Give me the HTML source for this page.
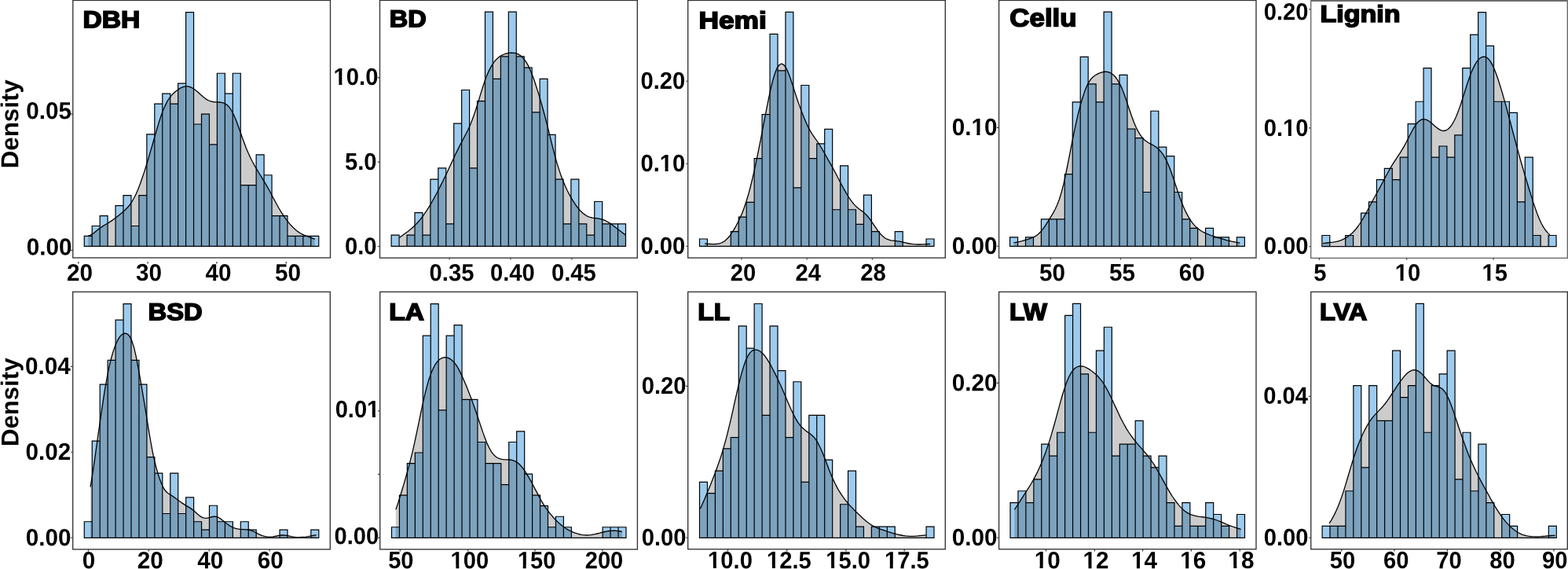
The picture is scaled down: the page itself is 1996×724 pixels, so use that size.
<!DOCTYPE html>
<html lang="en"><head><meta charset="utf-8"><title>Trait density histograms</title>
<style>
html,body{margin:0;padding:0;background:#fff;}
body{width:1996px;height:724px;overflow:hidden;}
svg{display:block;}
text{font-family:"Liberation Sans",Arial,Helvetica,sans-serif;font-weight:bold;fill:#000;}
.tk{font-size:29.7px;}
.ttl{stroke:#000;stroke-width:1.6;stroke-linejoin:miter;paint-order:stroke;}
.bar{fill:#9ccbee;stroke:#000;stroke-width:1.2;stroke-linejoin:miter;}
.den{fill:rgba(0,0,0,0.2);stroke:none;}
.dl{fill:none;stroke:#000;stroke-width:1.3;stroke-linejoin:round;stroke-linecap:butt;}
.fr{fill:none;stroke:#333;stroke-width:1.35;}
.tm{stroke:#333;stroke-width:1.2;fill:none;}
.wf{fill:#fff;stroke:none;}
.ty{stroke:#333;stroke-width:1.1;fill:none;}
</style></head><body>
<svg width="1996" height="724" viewBox="0 0 1996 724">
<rect x="0" y="0" width="1996" height="724" fill="#fff"/>
<g id="panel-DBH">
<g class="x-axis">
<text class="tk" transform="translate(84.93 357.17) rotate(0.03) scale(1.000 1.027)">20</text>
<text class="tk" transform="translate(172.93 357.12) rotate(0.03) scale(1.000 1.027)">30</text>
<text class="tk" transform="translate(261.55 357.24) rotate(0.03) scale(1.000 1.027)">40</text>
<text class="tk" transform="translate(349.89 357.15) rotate(0.03) scale(1.000 1.027)">50</text>
</g>
<g class="y-axis">
<text class="tk" transform="translate(33.29 151.23) rotate(0.03) scale(1.000 1.027)">0.05</text>
<text class="tk" transform="translate(33.68 324.55) rotate(0.03) scale(1.000 1.027)">0.00</text>
</g>
<path class="bar" d="M107.25,313.40V300.45H117.20V313.40ZM117.20,313.40V287.50H127.15V313.40ZM127.15,313.40V274.55H137.10V313.40ZM137.10,313.40H147.05M147.05,313.40V261.60H157.00V313.40ZM157.00,313.40V248.65H166.95V313.40ZM166.95,313.40V287.50H176.90V313.40ZM176.90,313.40V248.65H186.85V313.40ZM186.85,313.40V170.95H196.80V313.40ZM196.80,313.40V132.10H206.75V313.40ZM206.75,313.40V119.15H216.70V313.40ZM216.70,313.40V132.10H226.65V313.40ZM226.65,313.40V106.20H236.60V313.40ZM236.60,313.40V15.55H246.55V313.40ZM246.55,313.40V158.00H256.50V313.40ZM256.50,313.40V145.05H266.45V313.40ZM266.45,313.40V183.90H276.40V313.40ZM276.40,313.40V93.25H286.35V313.40ZM286.35,313.40V119.15H296.30V313.40ZM296.30,313.40V93.25H306.25V313.40ZM306.25,313.40V235.70H316.20V313.40ZM316.20,313.40V235.70H326.15V313.40ZM326.15,313.40V196.85H336.10V313.40ZM336.10,313.40V222.75H346.05V313.40ZM346.05,313.40V274.55H356.00V313.40ZM356.00,313.40V274.55H365.95V313.40ZM365.95,313.40V300.45H375.90V313.40ZM375.90,313.40V300.45H385.85V313.40ZM385.85,313.40V300.45H395.80V313.40ZM395.80,313.40V300.45H405.75V313.40Z"/>
<path class="den" d="M112.2,300.2L114.8,299.4L117.5,297.9L120.1,295.9L122.8,293.8L125.4,291.6L128.1,289.7L130.7,287.9L133.4,286.2L136.0,284.7L138.7,283.1L141.3,281.4L144.0,279.6L146.6,277.6L149.3,275.5L151.9,273.4L154.6,271.2L157.2,268.9L159.9,266.5L162.5,263.8L165.2,260.7L167.8,256.9L170.4,252.3L173.1,247.0L175.7,240.9L178.4,234.0L181.0,226.5L183.7,218.6L186.3,210.2L189.0,201.5L191.6,192.4L194.3,183.2L196.9,173.9L199.6,164.7L202.2,155.9L204.9,147.8L207.5,140.6L210.2,134.4L212.8,129.2L215.5,125.0L218.1,121.6L220.8,118.8L223.4,116.4L226.1,114.4L228.7,112.6L231.3,111.2L234.0,110.3L236.6,109.8L239.3,109.9L241.9,110.6L244.6,111.8L247.2,113.5L249.9,115.5L252.5,117.8L255.2,120.3L257.8,122.6L260.5,124.8L263.1,126.6L265.8,128.0L268.4,128.9L271.1,129.5L273.7,129.8L276.4,129.9L279.0,130.0L281.7,130.3L284.3,130.9L286.9,132.1L289.6,134.0L292.2,136.9L294.9,141.0L297.5,146.1L300.2,152.3L302.8,159.3L305.5,166.7L308.1,174.3L310.8,181.6L313.4,188.5L316.1,194.8L318.7,200.5L321.4,205.8L324.0,210.6L326.7,215.1L329.3,219.5L332.0,223.8L334.6,228.1L337.3,232.5L339.9,237.1L342.6,241.8L345.2,246.7L347.8,251.7L350.5,256.7L353.1,261.5L355.8,266.2L358.4,270.6L361.1,274.7L363.7,278.4L366.4,281.9L369.0,285.1L371.7,288.0L374.3,290.6L377.0,292.9L379.6,294.9L382.3,296.7L384.9,298.1L387.6,299.4L390.2,300.4L392.9,301.4L395.5,302.4L398.2,303.3L400.8,304.4L400.8,313.4L112.2,313.4Z"/>
<path class="dl" d="M112.2,300.2L114.8,299.4L117.5,297.9L120.1,295.9L122.8,293.8L125.4,291.6L128.1,289.7L130.7,287.9L133.4,286.2L136.0,284.7L138.7,283.1L141.3,281.4L144.0,279.6L146.6,277.6L149.3,275.5L151.9,273.4L154.6,271.2L157.2,268.9L159.9,266.5L162.5,263.8L165.2,260.7L167.8,256.9L170.4,252.3L173.1,247.0L175.7,240.9L178.4,234.0L181.0,226.5L183.7,218.6L186.3,210.2L189.0,201.5L191.6,192.4L194.3,183.2L196.9,173.9L199.6,164.7L202.2,155.9L204.9,147.8L207.5,140.6L210.2,134.4L212.8,129.2L215.5,125.0L218.1,121.6L220.8,118.8L223.4,116.4L226.1,114.4L228.7,112.6L231.3,111.2L234.0,110.3L236.6,109.8L239.3,109.9L241.9,110.6L244.6,111.8L247.2,113.5L249.9,115.5L252.5,117.8L255.2,120.3L257.8,122.6L260.5,124.8L263.1,126.6L265.8,128.0L268.4,128.9L271.1,129.5L273.7,129.8L276.4,129.9L279.0,130.0L281.7,130.3L284.3,130.9L286.9,132.1L289.6,134.0L292.2,136.9L294.9,141.0L297.5,146.1L300.2,152.3L302.8,159.3L305.5,166.7L308.1,174.3L310.8,181.6L313.4,188.5L316.1,194.8L318.7,200.5L321.4,205.8L324.0,210.6L326.7,215.1L329.3,219.5L332.0,223.8L334.6,228.1L337.3,232.5L339.9,237.1L342.6,241.8L345.2,246.7L347.8,251.7L350.5,256.7L353.1,261.5L355.8,266.2L358.4,270.6L361.1,274.7L363.7,278.4L366.4,281.9L369.0,285.1L371.7,288.0L374.3,290.6L377.0,292.9L379.6,294.9L382.3,296.7L384.9,298.1L387.6,299.4L390.2,300.4L392.9,301.4L395.5,302.4L398.2,303.3L400.8,304.4"/>
<rect class="fr" x="92.80" y="0.45" width="327.70" height="327.55"/>
<path class="tm" d="M99.90,333.10V335.60M188.10,333.10V335.60M275.90,333.10V335.60M364.30,333.10V335.60"/>
<path class="ty" d="M90.20,144.90H92.40M90.20,318.40H92.40"/>
<text class="ttl" style="font-size:30.49px" transform="translate(105.41 35.20) rotate(0.03) scale(1.1055 1)">DBH</text>
</g>
<g id="panel-BD">
<g class="x-axis">
<text class="tk" transform="translate(546.59 357.14) rotate(0.03) scale(0.985 1.027)">0.35</text>
<text class="tk" transform="translate(623.92 357.17) rotate(0.03) scale(0.985 1.027)">0.40</text>
<text class="tk" transform="translate(701.97 357.15) rotate(0.03) scale(0.985 1.027)">0.45</text>
</g>
<g class="y-axis">
<g transform="translate(424.57 107.97) rotate(0.03) scale(0.985 1.027)"><text class="tk">10.0</text><path class="wf" d="M0.87,-3.73H6.93V0.80H0.87ZM11.01,-3.73H16.69V0.80H11.01Z"/></g>
<text class="tk" transform="translate(438.88 215.98) rotate(0.03) scale(0.985 1.027)">5.0</text>
<text class="tk" transform="translate(438.92 323.54) rotate(0.03) scale(0.985 1.027)">0.0</text>
</g>
<path class="bar" d="M498.15,313.30V299.10H508.09V313.30ZM508.09,313.30H518.04M518.04,313.30V299.10H527.99V313.30ZM527.99,313.30V270.70H537.93V313.30ZM537.93,313.30V299.10H547.88V313.30ZM547.88,313.30V228.10H557.82V313.30ZM557.82,313.30V213.90H567.76V313.30ZM567.76,313.30V284.90H577.71V313.30ZM577.71,313.30V157.10H587.66V313.30ZM587.65,313.30V114.50H597.60V313.30ZM597.60,313.30V213.90H607.55V313.30ZM607.54,313.30V128.70H617.49V313.30ZM617.49,313.30V15.10H627.44V313.30ZM627.43,313.30V100.30H637.38V313.30ZM637.38,313.30V71.90H647.33V313.30ZM647.33,313.30V15.10H657.27V313.30ZM657.27,313.30V71.90H667.22V313.30ZM667.21,313.30V86.10H677.16V313.30ZM677.16,313.30V142.90H687.11V313.30ZM687.11,313.30V100.30H697.05V313.30ZM697.05,313.30V171.30H707.00V313.30ZM707.00,313.30V228.10H716.94V313.30ZM716.94,313.30V284.90H726.89V313.30ZM726.88,313.30V228.10H736.83V313.30ZM736.83,313.30V284.90H746.77V313.30ZM746.77,313.30V299.10H756.72V313.30ZM756.72,313.30V256.50H766.67V313.30ZM766.66,313.30V284.90H776.61V313.30ZM776.61,313.30V284.90H786.56V313.30ZM786.56,313.30V284.90H796.50V313.30Z"/>
<path class="den" d="M508.4,302.2L511.1,300.4L513.7,298.5L516.3,296.6L519.0,294.7L521.6,292.6L524.3,290.4L526.9,288.0L529.5,285.4L532.2,282.5L534.8,279.4L537.5,276.0L540.1,272.4L542.7,268.6L545.4,264.4L548.0,260.1L550.7,255.5L553.3,250.7L556.0,245.8L558.6,240.7L561.2,235.6L563.9,230.3L566.5,224.9L569.2,219.3L571.8,213.6L574.4,207.9L577.1,202.2L579.7,196.6L582.4,191.1L585.0,185.8L587.6,180.8L590.3,175.8L592.9,170.8L595.6,165.5L598.2,159.8L600.8,153.3L603.5,146.1L606.1,138.1L608.8,129.6L611.4,120.9L614.1,112.3L616.7,104.3L619.3,97.1L622.0,90.9L624.6,85.7L627.3,81.3L629.9,77.7L632.5,74.9L635.2,72.6L637.8,70.8L640.5,69.5L643.1,68.5L645.7,67.8L648.4,67.4L651.0,67.2L653.7,67.3L656.3,67.7L658.9,68.6L661.6,70.0L664.2,72.1L666.9,74.9L669.5,78.6L672.2,83.1L674.8,88.7L677.4,95.1L680.1,102.3L682.7,110.2L685.4,118.6L688.0,127.4L690.6,136.7L693.3,146.5L695.9,156.7L698.6,167.2L701.2,177.9L703.8,188.4L706.5,198.5L709.1,207.9L711.8,216.4L714.4,224.1L717.1,231.0L719.7,237.2L722.3,242.8L725.0,247.9L727.6,252.6L730.3,256.9L732.9,260.8L735.5,264.4L738.2,267.5L740.8,270.2L743.5,272.4L746.1,274.2L748.7,275.6L751.4,276.5L754.0,277.1L756.7,277.5L759.3,277.7L761.9,278.1L764.6,278.6L767.2,279.3L769.9,280.3L772.5,281.7L775.2,283.2L777.8,285.0L780.4,286.9L783.1,289.0L785.7,291.0L788.4,293.1L791.0,295.1L793.6,297.0L796.3,298.9L796.3,313.3L508.4,313.3Z"/>
<path class="dl" d="M508.4,302.2L511.1,300.4L513.7,298.5L516.3,296.6L519.0,294.7L521.6,292.6L524.3,290.4L526.9,288.0L529.5,285.4L532.2,282.5L534.8,279.4L537.5,276.0L540.1,272.4L542.7,268.6L545.4,264.4L548.0,260.1L550.7,255.5L553.3,250.7L556.0,245.8L558.6,240.7L561.2,235.6L563.9,230.3L566.5,224.9L569.2,219.3L571.8,213.6L574.4,207.9L577.1,202.2L579.7,196.6L582.4,191.1L585.0,185.8L587.6,180.8L590.3,175.8L592.9,170.8L595.6,165.5L598.2,159.8L600.8,153.3L603.5,146.1L606.1,138.1L608.8,129.6L611.4,120.9L614.1,112.3L616.7,104.3L619.3,97.1L622.0,90.9L624.6,85.7L627.3,81.3L629.9,77.7L632.5,74.9L635.2,72.6L637.8,70.8L640.5,69.5L643.1,68.5L645.7,67.8L648.4,67.4L651.0,67.2L653.7,67.3L656.3,67.7L658.9,68.6L661.6,70.0L664.2,72.1L666.9,74.9L669.5,78.6L672.2,83.1L674.8,88.7L677.4,95.1L680.1,102.3L682.7,110.2L685.4,118.6L688.0,127.4L690.6,136.7L693.3,146.5L695.9,156.7L698.6,167.2L701.2,177.9L703.8,188.4L706.5,198.5L709.1,207.9L711.8,216.4L714.4,224.1L717.1,231.0L719.7,237.2L722.3,242.8L725.0,247.9L727.6,252.6L730.3,256.9L732.9,260.8L735.5,264.4L738.2,267.5L740.8,270.2L743.5,272.4L746.1,274.2L748.7,275.6L751.4,276.5L754.0,277.1L756.7,277.5L759.3,277.7L761.9,278.1L764.6,278.6L767.2,279.3L769.9,280.3L772.5,281.7L775.2,283.2L777.8,285.0L780.4,286.9L783.1,289.0L785.7,291.0L788.4,293.1L791.0,295.1L793.6,297.0L796.3,298.9"/>
<rect class="fr" x="483.50" y="0.45" width="327.80" height="327.75"/>
<path class="tm" d="M572.00,328.40V330.50M649.90,328.40V330.50M727.90,328.40V330.50"/>
<path class="ty" d="M480.90,98.90H483.10M480.90,206.10H483.10M480.90,313.50H483.10"/>
<text class="ttl" style="font-size:30.46px" transform="translate(495.65 34.30) rotate(0.03) scale(1.0676 1)">BD</text>
</g>
<g id="panel-Hemi">
<g class="x-axis">
<text class="tk" transform="translate(929.84 357.25) rotate(0.03) scale(0.982 1.027)">20</text>
<text class="tk" transform="translate(1012.47 357.28) rotate(0.03) scale(0.982 1.027)">24</text>
<text class="tk" transform="translate(1095.17 357.11) rotate(0.03) scale(0.982 1.027)">28</text>
</g>
<g class="y-axis">
<text class="tk" transform="translate(815.46 112.98) rotate(0.03) scale(0.982 1.027)">0.20</text>
<g transform="translate(815.46 217.98) rotate(0.03) scale(0.982 1.027)"><text class="tk">0.10</text><path class="wf" d="M25.64,-3.73H31.70V0.80H25.64ZM35.78,-3.73H41.46V0.80H35.78Z"/></g>
<text class="tk" transform="translate(815.47 322.98) rotate(0.03) scale(0.982 1.027)">0.00</text>
</g>
<path class="bar" d="M890.50,313.30V303.99H900.45V313.30ZM900.45,313.30H910.40M910.40,313.30H920.35M920.35,313.30H930.30M930.30,313.30V294.68H940.25V313.30ZM940.25,313.30V276.06H950.20V313.30ZM950.20,313.30V257.44H960.15V313.30ZM960.15,313.30V201.58H970.10V313.30ZM970.10,313.30V145.72H980.05V313.30ZM980.05,313.30V43.31H990.00V313.30ZM990.00,313.30V89.86H999.95V313.30ZM999.95,313.30V15.38H1009.90V313.30ZM1009.90,313.30V238.82H1019.85V313.30ZM1019.85,313.30V108.48H1029.80V313.30ZM1029.80,313.30V201.58H1039.75V313.30ZM1039.75,313.30V182.96H1049.70V313.30ZM1049.70,313.30V164.34H1059.65V313.30ZM1059.65,313.30V266.75H1069.60V313.30ZM1069.60,313.30V210.89H1079.55V313.30ZM1079.55,313.30V266.75H1089.50V313.30ZM1089.50,313.30V285.37H1099.45V313.30ZM1099.45,313.30V248.13H1109.40V313.30ZM1109.40,313.30V294.68H1119.35V313.30ZM1119.35,313.30H1129.30M1129.30,313.30H1139.25M1139.25,313.30V294.68H1149.20V313.30ZM1149.20,313.30H1159.15M1159.15,313.30H1169.10M1169.10,313.30H1179.05M1179.05,313.30V303.99H1189.00V313.30Z"/>
<path class="den" d="M897.3,309.9L899.9,310.1L902.5,310.3L905.2,310.5L907.8,310.6L910.4,310.5L913.1,310.3L915.7,309.8L918.3,309.0L921.0,307.7L923.6,305.8L926.2,303.3L928.9,300.2L931.5,296.5L934.1,292.4L936.8,287.8L939.4,282.7L942.0,277.3L944.7,271.2L947.3,264.3L949.9,256.5L952.6,247.8L955.2,238.0L957.8,227.3L960.5,215.6L963.1,203.3L965.7,190.4L968.4,177.1L971.0,163.5L973.6,149.8L976.3,136.2L978.9,123.1L981.5,111.1L984.2,100.7L986.8,92.3L989.4,86.2L992.1,82.5L994.7,81.2L997.3,82.2L1000.0,85.3L1002.6,90.4L1005.2,97.0L1007.8,104.7L1010.5,112.9L1013.1,121.1L1015.7,129.0L1018.4,136.4L1021.0,143.4L1023.6,150.0L1026.3,156.2L1028.9,161.9L1031.5,166.8L1034.2,171.1L1036.8,174.8L1039.4,178.5L1042.1,182.3L1044.7,186.5L1047.3,191.0L1050.0,195.8L1052.6,200.5L1055.2,205.1L1057.9,209.7L1060.5,214.4L1063.1,219.3L1065.8,224.3L1068.4,229.5L1071.0,234.6L1073.7,239.5L1076.3,244.1L1078.9,248.5L1081.6,252.6L1084.2,256.3L1086.8,259.6L1089.5,262.4L1092.1,264.7L1094.7,266.7L1097.4,268.6L1100.0,270.7L1102.6,273.2L1105.3,276.2L1107.9,279.6L1110.5,283.4L1113.2,287.3L1115.8,291.2L1118.4,294.8L1121.1,298.0L1123.7,300.6L1126.3,302.7L1129.0,304.2L1131.6,305.2L1134.2,305.8L1136.9,306.1L1139.5,306.4L1142.1,306.8L1144.8,307.2L1147.4,307.7L1150.0,308.3L1152.7,308.9L1155.3,309.5L1157.9,310.0L1160.6,310.4L1163.2,310.7L1165.8,310.9L1168.5,311.0L1171.1,311.0L1173.7,310.9L1176.4,310.8L1179.0,310.6L1181.6,310.4L1184.2,310.3L1184.2,313.3L897.3,313.3Z"/>
<path class="dl" d="M897.3,309.9L899.9,310.1L902.5,310.3L905.2,310.5L907.8,310.6L910.4,310.5L913.1,310.3L915.7,309.8L918.3,309.0L921.0,307.7L923.6,305.8L926.2,303.3L928.9,300.2L931.5,296.5L934.1,292.4L936.8,287.8L939.4,282.7L942.0,277.3L944.7,271.2L947.3,264.3L949.9,256.5L952.6,247.8L955.2,238.0L957.8,227.3L960.5,215.6L963.1,203.3L965.7,190.4L968.4,177.1L971.0,163.5L973.6,149.8L976.3,136.2L978.9,123.1L981.5,111.1L984.2,100.7L986.8,92.3L989.4,86.2L992.1,82.5L994.7,81.2L997.3,82.2L1000.0,85.3L1002.6,90.4L1005.2,97.0L1007.8,104.7L1010.5,112.9L1013.1,121.1L1015.7,129.0L1018.4,136.4L1021.0,143.4L1023.6,150.0L1026.3,156.2L1028.9,161.9L1031.5,166.8L1034.2,171.1L1036.8,174.8L1039.4,178.5L1042.1,182.3L1044.7,186.5L1047.3,191.0L1050.0,195.8L1052.6,200.5L1055.2,205.1L1057.9,209.7L1060.5,214.4L1063.1,219.3L1065.8,224.3L1068.4,229.5L1071.0,234.6L1073.7,239.5L1076.3,244.1L1078.9,248.5L1081.6,252.6L1084.2,256.3L1086.8,259.6L1089.5,262.4L1092.1,264.7L1094.7,266.7L1097.4,268.6L1100.0,270.7L1102.6,273.2L1105.3,276.2L1107.9,279.6L1110.5,283.4L1113.2,287.3L1115.8,291.2L1118.4,294.8L1121.1,298.0L1123.7,300.6L1126.3,302.7L1129.0,304.2L1131.6,305.2L1134.2,305.8L1136.9,306.1L1139.5,306.4L1142.1,306.8L1144.8,307.2L1147.4,307.7L1150.0,308.3L1152.7,308.9L1155.3,309.5L1157.9,310.0L1160.6,310.4L1163.2,310.7L1165.8,310.9L1168.5,311.0L1171.1,311.0L1173.7,310.9L1176.4,310.8L1179.0,310.6L1181.6,310.4L1184.2,310.3"/>
<rect class="fr" x="875.70" y="0.45" width="327.60" height="327.65"/>
<path class="tm" d="M943.90,328.40V330.50M1027.10,328.40V330.50M1110.40,328.40V330.50"/>
<path class="ty" d="M873.10,103.25H875.30M873.10,208.25H875.30M873.10,313.30H875.30"/>
<text class="ttl" style="font-size:30.49px" transform="translate(889.40 36.30) rotate(0.03) scale(1.1605 1)">Hemi</text>
</g>
<g id="panel-Cellu">
<g class="x-axis">
<text class="tk" transform="translate(1322.89 357.15) rotate(0.03) scale(1.000 1.027)">50</text>
<text class="tk" transform="translate(1411.94 357.12) rotate(0.03) scale(1.000 1.027)">55</text>
<text class="tk" transform="translate(1500.76 357.12) rotate(0.03) scale(1.000 1.027)">60</text>
</g>
<g class="y-axis">
<g transform="translate(1211.66 172.09) rotate(0.03) scale(1.000 1.027)"><text class="tk">0.10</text><path class="wf" d="M25.64,-3.73H31.70V0.80H25.64ZM35.78,-3.73H41.46V0.80H35.78Z"/></g>
<text class="tk" transform="translate(1211.66 322.98) rotate(0.03) scale(1.000 1.027)">0.00</text>
</g>
<path class="bar" d="M1285.60,313.30V301.83H1295.56V313.30ZM1295.56,313.30H1305.52M1305.52,313.30V301.83H1315.48V313.30ZM1315.48,313.30H1325.44M1325.44,313.30V278.89H1335.40V313.30ZM1335.40,313.30V278.89H1345.36V313.30ZM1345.36,313.30V278.89H1355.32V313.30ZM1355.32,313.30V221.54H1365.28V313.30ZM1365.28,313.30V129.78H1375.24V313.30ZM1375.24,313.30V72.43H1385.20V313.30ZM1385.20,313.30V106.84H1395.16V313.30ZM1395.16,313.30V129.78H1405.12V313.30ZM1405.12,313.30V15.08H1415.08V313.30ZM1415.08,313.30V106.84H1425.04V313.30ZM1425.04,313.30V95.37H1435.00V313.30ZM1435.00,313.30V164.19H1444.96V313.30ZM1444.96,313.30V175.66H1454.92V313.30ZM1454.92,313.30V244.48H1464.88V313.30ZM1464.88,313.30V141.25H1474.84V313.30ZM1474.84,313.30V187.13H1484.80V313.30ZM1484.80,313.30V198.60H1494.76V313.30ZM1494.76,313.30V244.48H1504.72V313.30ZM1504.72,313.30V278.89H1514.68V313.30ZM1514.68,313.30V290.36H1524.64V313.30ZM1524.64,313.30H1534.60M1534.60,313.30V290.36H1544.56V313.30ZM1544.56,313.30V301.83H1554.52V313.30ZM1554.52,313.30V301.83H1564.48V313.30ZM1564.48,313.30H1574.44M1574.44,313.30V301.83H1584.40V313.30Z"/>
<path class="den" d="M1290.5,308.7L1293.1,308.4L1295.8,307.9L1298.4,307.3L1301.1,306.7L1303.7,305.9L1306.3,305.1L1309.0,304.3L1311.6,303.4L1314.3,302.4L1316.9,301.2L1319.5,299.6L1322.2,297.5L1324.8,294.8L1327.5,291.6L1330.1,287.9L1332.7,283.9L1335.4,279.7L1338.0,275.4L1340.7,270.9L1343.3,266.0L1345.9,260.2L1348.6,253.2L1351.2,244.6L1353.9,234.3L1356.5,222.5L1359.1,209.5L1361.8,195.9L1364.4,182.3L1367.1,169.1L1369.7,156.8L1372.3,145.3L1375.0,134.9L1377.6,125.7L1380.3,117.6L1382.9,110.8L1385.5,105.4L1388.2,101.3L1390.8,98.4L1393.5,96.3L1396.1,94.7L1398.7,93.4L1401.4,92.4L1404.0,91.6L1406.7,91.2L1409.3,91.3L1411.9,92.0L1414.6,93.3L1417.2,95.3L1419.9,98.0L1422.5,101.6L1425.1,106.1L1427.8,111.6L1430.4,118.2L1433.1,125.5L1435.7,133.4L1438.3,141.3L1441.0,149.0L1443.6,156.0L1446.3,162.2L1448.9,167.4L1451.5,171.7L1454.2,175.2L1456.8,177.9L1459.5,180.0L1462.1,181.7L1464.7,183.1L1467.4,184.5L1470.0,186.0L1472.7,187.9L1475.3,190.2L1477.9,193.1L1480.6,196.7L1483.2,201.1L1485.9,206.4L1488.5,212.6L1491.1,219.6L1493.8,227.2L1496.4,235.2L1499.1,243.1L1501.7,250.7L1504.3,257.8L1507.0,264.2L1509.6,269.9L1512.3,274.9L1514.9,279.3L1517.5,283.1L1520.2,286.4L1522.8,289.1L1525.5,291.3L1528.1,293.2L1530.7,294.8L1533.4,296.1L1536.0,297.3L1538.7,298.4L1541.3,299.5L1543.9,300.4L1546.6,301.2L1549.2,302.1L1551.9,302.8L1554.5,303.6L1557.1,304.3L1559.8,305.1L1562.4,305.8L1565.1,306.4L1567.7,307.1L1570.3,307.6L1573.0,308.2L1575.6,308.7L1578.3,309.2L1578.3,313.3L1290.5,313.3Z"/>
<path class="dl" d="M1290.5,308.7L1293.1,308.4L1295.8,307.9L1298.4,307.3L1301.1,306.7L1303.7,305.9L1306.3,305.1L1309.0,304.3L1311.6,303.4L1314.3,302.4L1316.9,301.2L1319.5,299.6L1322.2,297.5L1324.8,294.8L1327.5,291.6L1330.1,287.9L1332.7,283.9L1335.4,279.7L1338.0,275.4L1340.7,270.9L1343.3,266.0L1345.9,260.2L1348.6,253.2L1351.2,244.6L1353.9,234.3L1356.5,222.5L1359.1,209.5L1361.8,195.9L1364.4,182.3L1367.1,169.1L1369.7,156.8L1372.3,145.3L1375.0,134.9L1377.6,125.7L1380.3,117.6L1382.9,110.8L1385.5,105.4L1388.2,101.3L1390.8,98.4L1393.5,96.3L1396.1,94.7L1398.7,93.4L1401.4,92.4L1404.0,91.6L1406.7,91.2L1409.3,91.3L1411.9,92.0L1414.6,93.3L1417.2,95.3L1419.9,98.0L1422.5,101.6L1425.1,106.1L1427.8,111.6L1430.4,118.2L1433.1,125.5L1435.7,133.4L1438.3,141.3L1441.0,149.0L1443.6,156.0L1446.3,162.2L1448.9,167.4L1451.5,171.7L1454.2,175.2L1456.8,177.9L1459.5,180.0L1462.1,181.7L1464.7,183.1L1467.4,184.5L1470.0,186.0L1472.7,187.9L1475.3,190.2L1477.9,193.1L1480.6,196.7L1483.2,201.1L1485.9,206.4L1488.5,212.6L1491.1,219.6L1493.8,227.2L1496.4,235.2L1499.1,243.1L1501.7,250.7L1504.3,257.8L1507.0,264.2L1509.6,269.9L1512.3,274.9L1514.9,279.3L1517.5,283.1L1520.2,286.4L1522.8,289.1L1525.5,291.3L1528.1,293.2L1530.7,294.8L1533.4,296.1L1536.0,297.3L1538.7,298.4L1541.3,299.5L1543.9,300.4L1546.6,301.2L1549.2,302.1L1551.9,302.8L1554.5,303.6L1557.1,304.3L1559.8,305.1L1562.4,305.8L1565.1,306.4L1567.7,307.1L1570.3,307.6L1573.0,308.2L1575.6,308.7L1578.3,309.2"/>
<rect class="fr" x="1271.60" y="0.45" width="327.40" height="327.65"/>
<path class="tm" d="M1337.50,328.40V330.50M1426.50,328.40V330.50M1515.70,328.40V330.50"/>
<path class="ty" d="M1269.00,162.40H1271.20M1269.00,313.30H1271.20"/>
<text class="ttl" style="font-size:31.82px" transform="translate(1285.29 33.57) rotate(0.03) scale(1.0973 1)">Cellu</text>
</g>
<g id="panel-Lignin">
<g class="x-axis">
<text class="tk" transform="translate(1672.26 357.20) rotate(0.03) scale(0.983 1.027)">5</text>
<g transform="translate(1775.76 357.30) rotate(0.03) scale(0.983 1.027)"><text class="tk">10</text><path class="wf" d="M0.87,-3.73H6.93V0.80H0.87ZM11.01,-3.73H16.69V0.80H11.01Z"/></g>
<g transform="translate(1886.52 357.15) rotate(0.03) scale(0.983 1.027)"><text class="tk">15</text><path class="wf" d="M0.87,-3.73H6.93V0.80H0.87ZM11.01,-3.73H16.69V0.80H11.01Z"/></g>
</g>
<g class="y-axis">
<text class="tk" transform="translate(1608.69 25.23) rotate(0.03) scale(0.983 1.027)">0.20</text>
<g transform="translate(1608.70 172.98) rotate(0.03) scale(0.983 1.027)"><text class="tk">0.10</text><path class="wf" d="M25.64,-3.73H31.70V0.80H25.64ZM35.78,-3.73H41.46V0.80H35.78Z"/></g>
<text class="tk" transform="translate(1608.70 322.98) rotate(0.03) scale(0.983 1.027)">0.00</text>
</g>
<path class="bar" d="M1682.85,313.70V299.51H1692.79V313.70ZM1692.79,313.70H1702.73M1702.73,313.70H1712.67M1712.67,313.70V299.51H1722.61V313.70ZM1722.61,313.70H1732.55M1732.55,313.70V271.13H1742.49V313.70ZM1742.49,313.70V256.94H1752.43V313.70ZM1752.43,313.70V228.56H1762.37V313.70ZM1762.37,313.70V214.37H1772.31V313.70ZM1772.31,313.70V228.56H1782.25V313.70ZM1782.25,313.70V200.18H1792.19V313.70ZM1792.19,313.70V157.61H1802.13V313.70ZM1802.13,313.70V129.23H1812.07V313.70ZM1812.07,313.70V86.66H1822.01V313.70ZM1822.01,313.70V200.18H1831.95V313.70ZM1831.95,313.70V185.99H1841.89V313.70ZM1841.89,313.70V200.18H1851.83V313.70ZM1851.83,313.70V171.80H1861.77V313.70ZM1861.77,313.70V86.66H1871.71V313.70ZM1871.71,313.70V44.09H1881.65V313.70ZM1881.65,313.70V15.71H1891.59V313.70ZM1891.59,313.70V58.28H1901.53V313.70ZM1901.53,313.70V129.23H1911.47V313.70ZM1911.47,313.70V129.23H1921.41V313.70ZM1921.41,313.70V143.42H1931.35V313.70ZM1931.35,313.70V256.94H1941.29V313.70ZM1941.29,313.70V200.18H1951.23V313.70ZM1951.23,313.70V299.51H1961.17V313.70ZM1961.17,313.70H1971.11M1971.11,313.70V299.51H1981.05V313.70Z"/>
<path class="den" d="M1684.0,309.6L1686.7,309.3L1689.3,309.0L1692.0,308.7L1694.6,308.4L1697.3,308.1L1699.9,307.7L1702.6,307.1L1705.2,306.3L1707.9,305.3L1710.5,304.1L1713.2,302.6L1715.8,300.9L1718.5,298.9L1721.1,296.7L1723.8,294.0L1726.4,291.0L1729.1,287.5L1731.7,283.5L1734.4,279.2L1737.0,274.6L1739.7,269.7L1742.3,264.7L1745.0,259.7L1747.6,254.8L1750.3,250.0L1752.9,245.2L1755.6,240.4L1758.2,235.5L1760.9,230.5L1763.5,225.5L1766.2,220.5L1768.8,215.7L1771.5,211.2L1774.1,206.9L1776.8,202.9L1779.4,198.9L1782.1,194.9L1784.7,190.7L1787.4,186.1L1790.0,181.2L1792.7,176.0L1795.3,170.7L1798.0,165.7L1800.6,161.2L1803.3,157.3L1805.9,154.5L1808.6,152.6L1811.2,151.7L1813.9,151.8L1816.5,152.6L1819.2,154.2L1821.8,156.2L1824.5,158.5L1827.1,160.9L1829.8,163.1L1832.4,164.9L1835.1,166.1L1837.8,166.5L1840.4,166.0L1843.1,164.5L1845.7,162.0L1848.4,158.4L1851.0,153.8L1853.7,148.2L1856.3,141.6L1859.0,134.1L1861.6,126.0L1864.3,117.6L1866.9,109.3L1869.6,101.3L1872.2,94.0L1874.9,87.6L1877.5,82.4L1880.2,78.2L1882.8,75.1L1885.5,73.1L1888.1,72.2L1890.8,72.4L1893.4,73.8L1896.1,76.6L1898.7,80.6L1901.4,86.0L1904.0,92.5L1906.7,100.0L1909.3,108.2L1912.0,116.9L1914.6,126.1L1917.3,135.7L1919.9,145.5L1922.6,155.5L1925.2,165.5L1927.9,175.5L1930.5,185.4L1933.2,195.1L1935.8,204.5L1938.5,213.7L1941.1,222.7L1943.8,231.6L1946.4,240.3L1949.1,248.9L1951.7,257.2L1954.4,265.1L1957.0,272.4L1959.7,279.0L1962.3,284.7L1965.0,289.4L1967.6,293.3L1970.3,296.4L1972.9,298.9L1972.9,313.7L1684.0,313.7Z"/>
<path class="dl" d="M1684.0,309.6L1686.7,309.3L1689.3,309.0L1692.0,308.7L1694.6,308.4L1697.3,308.1L1699.9,307.7L1702.6,307.1L1705.2,306.3L1707.9,305.3L1710.5,304.1L1713.2,302.6L1715.8,300.9L1718.5,298.9L1721.1,296.7L1723.8,294.0L1726.4,291.0L1729.1,287.5L1731.7,283.5L1734.4,279.2L1737.0,274.6L1739.7,269.7L1742.3,264.7L1745.0,259.7L1747.6,254.8L1750.3,250.0L1752.9,245.2L1755.6,240.4L1758.2,235.5L1760.9,230.5L1763.5,225.5L1766.2,220.5L1768.8,215.7L1771.5,211.2L1774.1,206.9L1776.8,202.9L1779.4,198.9L1782.1,194.9L1784.7,190.7L1787.4,186.1L1790.0,181.2L1792.7,176.0L1795.3,170.7L1798.0,165.7L1800.6,161.2L1803.3,157.3L1805.9,154.5L1808.6,152.6L1811.2,151.7L1813.9,151.8L1816.5,152.6L1819.2,154.2L1821.8,156.2L1824.5,158.5L1827.1,160.9L1829.8,163.1L1832.4,164.9L1835.1,166.1L1837.8,166.5L1840.4,166.0L1843.1,164.5L1845.7,162.0L1848.4,158.4L1851.0,153.8L1853.7,148.2L1856.3,141.6L1859.0,134.1L1861.6,126.0L1864.3,117.6L1866.9,109.3L1869.6,101.3L1872.2,94.0L1874.9,87.6L1877.5,82.4L1880.2,78.2L1882.8,75.1L1885.5,73.1L1888.1,72.2L1890.8,72.4L1893.4,73.8L1896.1,76.6L1898.7,80.6L1901.4,86.0L1904.0,92.5L1906.7,100.0L1909.3,108.2L1912.0,116.9L1914.6,126.1L1917.3,135.7L1919.9,145.5L1922.6,155.5L1925.2,165.5L1927.9,175.5L1930.5,185.4L1933.2,195.1L1935.8,204.5L1938.5,213.7L1941.1,222.7L1943.8,231.6L1946.4,240.3L1949.1,248.9L1951.7,257.2L1954.4,265.1L1957.0,272.4L1959.7,279.0L1962.3,284.7L1965.0,289.4L1967.6,293.3L1970.3,296.4L1972.9,298.9"/>
<rect class="fr" style="stroke:#666" x="1668.70" y="0.90" width="326.60" height="327.50"/>
<path d="M1668.70,0.95H1995.30" style="fill:none;stroke:#6c6c6c;stroke-width:1.9"/>
<path class="tm" d="M1679.40,328.60V330.70M1790.70,328.60V330.70M1901.00,328.60V330.70"/>
<path class="ty" d="M1666.10,11.90H1668.30M1666.10,162.90H1668.30M1666.10,313.75H1668.30"/>
<text class="ttl" style="font-size:30.10px" transform="translate(1680.41 28.03) rotate(0.03) scale(1.1303 1)">Lignin</text>
</g>
<g id="panel-BSD">
<g class="x-axis">
<text class="tk" transform="translate(104.80 723.19) rotate(0.03) scale(1.000 1.027)">0</text>
<text class="tk" transform="translate(174.64 723.15) rotate(0.03) scale(1.000 1.027)">20</text>
<text class="tk" transform="translate(251.31 723.16) rotate(0.03) scale(1.000 1.027)">40</text>
<text class="tk" transform="translate(327.73 723.11) rotate(0.03) scale(1.000 1.027)">60</text>
</g>
<g class="y-axis">
<text class="tk" transform="translate(32.10 476.10) rotate(0.03) scale(1.000 1.027)">0.04</text>
<text class="tk" transform="translate(32.52 584.98) rotate(0.03) scale(1.000 1.027)">0.02</text>
<text class="tk" transform="translate(32.68 694.25) rotate(0.03) scale(1.000 1.027)">0.00</text>
</g>
<path class="bar" d="M107.30,684.30V663.76H117.25V684.30ZM117.25,684.30V561.08H127.20V684.30ZM127.20,684.30V489.21H137.15V684.30ZM137.15,684.30V458.40H147.10V684.30ZM147.10,684.30V407.06H157.05V684.30ZM157.05,684.30V386.53H167.00V684.30ZM167.00,684.30V458.40H176.95V684.30ZM176.95,684.30V489.21H186.90V684.30ZM186.90,684.30V581.62H196.85V684.30ZM196.85,684.30V602.16H206.80V684.30ZM206.80,684.30V653.50H216.75V684.30ZM216.75,684.30V602.16H226.70V684.30ZM226.70,684.30V653.50H236.65V684.30ZM236.65,684.30V632.96H246.60V684.30ZM246.60,684.30V663.76H256.55V684.30ZM256.55,684.30V674.03H266.50V684.30ZM266.50,684.30V643.23H276.45V684.30ZM276.45,684.30V663.76H286.40V684.30ZM286.40,684.30V663.76H296.35V684.30ZM296.35,684.30H306.30M306.30,684.30V663.76H316.25V684.30ZM316.25,684.30V674.03H326.20V684.30ZM326.20,684.30H336.15M336.15,684.30H346.10M346.10,684.30H356.05M356.05,684.30V674.03H366.00V684.30ZM366.00,684.30H375.95M375.95,684.30H385.90M385.90,684.30H395.85M395.85,684.30V674.03H405.80V684.30Z"/>
<path class="den" d="M115.1,619.7L117.7,603.7L120.4,585.6L123.0,567.0L125.6,548.5L128.3,530.2L130.9,512.5L133.5,495.7L136.2,480.5L138.8,467.3L141.5,456.2L144.1,447.1L146.7,439.7L149.4,433.7L152.0,429.2L154.6,426.1L157.3,424.5L159.9,424.2L162.6,425.3L165.2,428.2L167.8,433.6L170.5,441.9L173.1,453.2L175.7,466.6L178.4,481.4L181.0,496.7L183.7,512.4L186.3,528.5L188.9,544.8L191.6,560.5L194.2,574.8L196.8,587.0L199.5,597.3L202.1,606.1L204.8,613.5L207.4,619.4L210.0,623.8L212.7,626.7L215.3,628.6L218.0,630.2L220.6,631.9L223.2,633.8L225.9,635.8L228.5,637.7L231.1,639.6L233.8,641.4L236.4,643.1L239.1,644.6L241.7,646.1L244.3,647.9L247.0,650.0L249.6,652.4L252.2,654.8L254.9,656.9L257.5,658.4L260.2,659.2L262.8,659.3L265.4,658.9L268.1,658.2L270.7,657.5L273.3,657.2L276.0,657.6L278.6,658.7L281.3,660.4L283.9,662.4L286.5,664.6L289.2,666.7L291.8,668.6L294.5,670.2L297.1,671.4L299.7,672.3L302.4,672.9L305.0,673.4L307.6,673.6L310.3,673.7L312.9,673.8L315.6,674.0L318.2,674.5L320.8,675.3L323.5,676.5L326.1,677.9L328.7,679.3L331.4,680.6L334.0,681.6L336.7,682.3L339.3,682.8L341.9,683.1L344.6,683.1L347.2,682.9L349.8,682.5L352.5,682.0L355.1,681.4L357.8,681.0L360.4,680.9L363.0,681.1L365.7,681.5L368.3,682.1L370.9,682.7L373.6,683.2L376.2,683.5L378.9,683.7L381.5,683.7L384.1,683.5L386.8,683.3L389.4,683.1L392.1,682.7L394.7,682.2L397.3,681.6L400.0,681.1L402.6,680.6L402.6,684.3L115.1,684.3Z"/>
<path class="dl" d="M115.1,619.7L117.7,603.7L120.4,585.6L123.0,567.0L125.6,548.5L128.3,530.2L130.9,512.5L133.5,495.7L136.2,480.5L138.8,467.3L141.5,456.2L144.1,447.1L146.7,439.7L149.4,433.7L152.0,429.2L154.6,426.1L157.3,424.5L159.9,424.2L162.6,425.3L165.2,428.2L167.8,433.6L170.5,441.9L173.1,453.2L175.7,466.6L178.4,481.4L181.0,496.7L183.7,512.4L186.3,528.5L188.9,544.8L191.6,560.5L194.2,574.8L196.8,587.0L199.5,597.3L202.1,606.1L204.8,613.5L207.4,619.4L210.0,623.8L212.7,626.7L215.3,628.6L218.0,630.2L220.6,631.9L223.2,633.8L225.9,635.8L228.5,637.7L231.1,639.6L233.8,641.4L236.4,643.1L239.1,644.6L241.7,646.1L244.3,647.9L247.0,650.0L249.6,652.4L252.2,654.8L254.9,656.9L257.5,658.4L260.2,659.2L262.8,659.3L265.4,658.9L268.1,658.2L270.7,657.5L273.3,657.2L276.0,657.6L278.6,658.7L281.3,660.4L283.9,662.4L286.5,664.6L289.2,666.7L291.8,668.6L294.5,670.2L297.1,671.4L299.7,672.3L302.4,672.9L305.0,673.4L307.6,673.6L310.3,673.7L312.9,673.8L315.6,674.0L318.2,674.5L320.8,675.3L323.5,676.5L326.1,677.9L328.7,679.3L331.4,680.6L334.0,681.6L336.7,682.3L339.3,682.8L341.9,683.1L344.6,683.1L347.2,682.9L349.8,682.5L352.5,682.0L355.1,681.4L357.8,681.0L360.4,680.9L363.0,681.1L365.7,681.5L368.3,682.1L370.9,682.7L373.6,683.2L376.2,683.5L378.9,683.7L381.5,683.7L384.1,683.5L386.8,683.3L389.4,683.1L392.1,682.7L394.7,682.2L397.3,681.6L400.0,681.1L402.6,680.6"/>
<rect class="fr" x="92.70" y="371.40" width="327.60" height="327.60"/>
<path class="tm" d="M112.50,699.10V701.60M189.40,699.10V701.60M266.30,699.10V701.60M343.20,699.10V701.60"/>
<path class="ty" d="M90.10,466.40H92.30M90.10,575.30H92.30M90.10,684.30H92.30"/>
<text class="ttl" style="font-size:30.50px" transform="translate(188.62 407.20) rotate(0.03) scale(1.0729 1)">BSD</text>
</g>
<g id="panel-LA">
<g class="x-axis">
<text class="tk" transform="translate(494.17 723.12) rotate(0.03) scale(0.980 1.027)">50</text>
<g transform="translate(573.62 723.16) rotate(0.03) scale(0.980 1.027)"><text class="tk">100</text><path class="wf" d="M0.87,-3.73H6.93V0.80H0.87ZM11.01,-3.73H16.69V0.80H11.01Z"/></g>
<g transform="translate(658.90 723.14) rotate(0.03) scale(0.980 1.027)"><text class="tk">150</text><path class="wf" d="M0.87,-3.73H6.93V0.80H0.87ZM11.01,-3.73H16.69V0.80H11.01Z"/></g>
<text class="tk" transform="translate(744.76 723.13) rotate(0.03) scale(0.980 1.027)">200</text>
</g>
<g class="y-axis">
<g transform="translate(426.67 530.96) rotate(0.03) scale(0.980 1.027)"><text class="tk">0.01</text><path class="wf" d="M42.16,-3.73H48.22V0.80H42.16ZM52.29,-3.73H57.98V0.80H52.29Z"/></g>
<text class="tk" transform="translate(425.56 692.23) rotate(0.03) scale(0.980 1.027)">0.00</text>
</g>
<path class="bar" d="M498.50,684.30V670.76H508.45V684.30ZM508.45,684.30V630.16H518.40V684.30ZM518.40,684.30V589.55H528.35V684.30ZM528.35,684.30V576.02H538.30V684.30ZM538.30,684.30V427.13H548.25V684.30ZM548.25,684.30V386.53H558.20V684.30ZM558.20,684.30V521.88H568.15V684.30ZM568.15,684.30V427.13H578.10V684.30ZM578.10,684.30V413.60H588.05V684.30ZM588.05,684.30V508.34H598.00V684.30ZM598.00,684.30V508.34H607.95V684.30ZM607.95,684.30V562.48H617.90V684.30ZM617.90,684.30V589.55H627.85V684.30ZM627.85,684.30V589.55H637.80V684.30ZM637.80,684.30V616.62H647.75V684.30ZM647.75,684.30V562.48H657.70V684.30ZM657.70,684.30V548.95H667.65V684.30ZM667.65,684.30V603.09H677.60V684.30ZM677.60,684.30V630.16H687.55V684.30ZM687.55,684.30V643.69H697.50V684.30ZM697.50,684.30V670.76H707.45V684.30ZM707.45,684.30V657.23H717.40V684.30ZM717.40,684.30V670.76H727.35V684.30ZM727.35,684.30H737.30M737.30,684.30H747.25M747.25,684.30H757.20M757.20,684.30H767.15M767.15,684.30V670.76H777.10V684.30ZM777.10,684.30V670.76H787.05V684.30ZM787.05,684.30V670.76H797.00V684.30Z"/>
<path class="den" d="M503.8,648.4L506.5,640.6L509.1,632.4L511.7,623.8L514.4,614.9L517.0,605.8L519.7,596.3L522.3,586.2L525.0,575.4L527.6,563.8L530.2,551.6L532.9,538.9L535.5,526.1L538.2,513.7L540.8,502.1L543.5,491.6L546.1,482.5L548.8,474.9L551.4,468.7L554.0,463.8L556.7,460.2L559.3,457.5L562.0,455.8L564.6,454.9L567.3,454.7L569.9,455.2L572.5,456.4L575.2,458.2L577.8,460.9L580.5,464.2L583.1,468.4L585.8,473.4L588.4,478.9L591.0,485.0L593.7,491.3L596.3,498.0L599.0,504.8L601.6,511.9L604.3,519.2L606.9,526.8L609.5,534.7L612.2,542.6L614.8,550.4L617.5,557.8L620.1,564.4L622.8,570.0L625.4,574.6L628.1,578.1L630.7,580.7L633.3,582.5L636.0,583.6L638.6,584.3L641.3,584.7L643.9,584.8L646.6,584.9L649.2,585.0L651.8,585.4L654.5,586.3L657.1,587.6L659.8,589.5L662.4,592.0L665.1,595.1L667.7,598.7L670.3,602.8L673.0,607.2L675.6,611.9L678.3,616.8L680.9,621.9L683.6,626.9L686.2,631.9L688.8,636.7L691.5,641.2L694.1,645.3L696.8,649.1L699.4,652.5L702.1,655.7L704.7,658.7L707.3,661.5L710.0,664.1L712.6,666.5L715.3,668.7L717.9,670.7L720.6,672.5L723.2,674.1L725.9,675.5L728.5,676.7L731.1,677.8L733.8,678.7L736.4,679.5L739.1,680.1L741.7,680.6L744.4,680.9L747.0,681.0L749.6,680.9L752.3,680.7L754.9,680.2L757.6,679.7L760.2,679.0L762.9,678.4L765.5,677.7L768.1,677.0L770.8,676.4L773.4,675.9L776.1,675.5L778.7,675.3L781.4,675.2L784.0,675.3L786.6,675.6L789.3,676.0L791.9,676.6L791.9,684.3L503.8,684.3Z"/>
<path class="dl" d="M503.8,648.4L506.5,640.6L509.1,632.4L511.7,623.8L514.4,614.9L517.0,605.8L519.7,596.3L522.3,586.2L525.0,575.4L527.6,563.8L530.2,551.6L532.9,538.9L535.5,526.1L538.2,513.7L540.8,502.1L543.5,491.6L546.1,482.5L548.8,474.9L551.4,468.7L554.0,463.8L556.7,460.2L559.3,457.5L562.0,455.8L564.6,454.9L567.3,454.7L569.9,455.2L572.5,456.4L575.2,458.2L577.8,460.9L580.5,464.2L583.1,468.4L585.8,473.4L588.4,478.9L591.0,485.0L593.7,491.3L596.3,498.0L599.0,504.8L601.6,511.9L604.3,519.2L606.9,526.8L609.5,534.7L612.2,542.6L614.8,550.4L617.5,557.8L620.1,564.4L622.8,570.0L625.4,574.6L628.1,578.1L630.7,580.7L633.3,582.5L636.0,583.6L638.6,584.3L641.3,584.7L643.9,584.8L646.6,584.9L649.2,585.0L651.8,585.4L654.5,586.3L657.1,587.6L659.8,589.5L662.4,592.0L665.1,595.1L667.7,598.7L670.3,602.8L673.0,607.2L675.6,611.9L678.3,616.8L680.9,621.9L683.6,626.9L686.2,631.9L688.8,636.7L691.5,641.2L694.1,645.3L696.8,649.1L699.4,652.5L702.1,655.7L704.7,658.7L707.3,661.5L710.0,664.1L712.6,666.5L715.3,668.7L717.9,670.7L720.6,672.5L723.2,674.1L725.9,675.5L728.5,676.7L731.1,677.8L733.8,678.7L736.4,679.5L739.1,680.1L741.7,680.6L744.4,680.9L747.0,681.0L749.6,680.9L752.3,680.7L754.9,680.2L757.6,679.7L760.2,679.0L762.9,678.4L765.5,677.7L768.1,677.0L770.8,676.4L773.4,675.9L776.1,675.5L778.7,675.3L781.4,675.2L784.0,675.3L786.6,675.6L789.3,676.0L791.9,676.6"/>
<rect class="fr" x="483.70" y="371.40" width="327.70" height="327.60"/>
<path class="tm" d="M509.40,699.10V701.60M595.70,699.10V701.60M681.00,699.10V701.60M766.90,699.10V701.60"/>
<path class="ty" d="M481.10,522.90H483.30M481.10,603.40H483.30M481.10,684.10H483.30"/>
<text class="ttl" style="font-size:30.52px" transform="translate(495.34 407.20) rotate(0.03) scale(1.0978 1)">LA</text>
</g>
<g id="panel-LL">
<g class="x-axis">
<g transform="translate(901.11 723.11) rotate(0.03) scale(0.982 1.027)"><text class="tk">10.0</text><path class="wf" d="M0.87,-3.73H6.93V0.80H0.87ZM11.01,-3.73H16.69V0.80H11.01Z"/></g>
<g transform="translate(976.07 723.12) rotate(0.03) scale(0.982 1.027)"><text class="tk">12.5</text><path class="wf" d="M0.87,-3.73H6.93V0.80H0.87ZM11.01,-3.73H16.69V0.80H11.01Z"/></g>
<g transform="translate(1051.34 723.12) rotate(0.03) scale(0.982 1.027)"><text class="tk">15.0</text><path class="wf" d="M0.87,-3.73H6.93V0.80H0.87ZM11.01,-3.73H16.69V0.80H11.01Z"/></g>
<g transform="translate(1125.96 723.15) rotate(0.03) scale(0.982 1.027)"><text class="tk">17.5</text><path class="wf" d="M0.87,-3.73H6.93V0.80H0.87ZM11.01,-3.73H16.69V0.80H11.01Z"/></g>
</g>
<g class="y-axis">
<text class="tk" transform="translate(816.68 500.97) rotate(0.03) scale(0.982 1.027)">0.20</text>
<text class="tk" transform="translate(816.69 693.98) rotate(0.03) scale(0.982 1.027)">0.00</text>
</g>
<path class="bar" d="M890.50,684.30V613.39H900.45V684.30ZM900.45,684.30V627.57H910.40V684.30ZM910.40,684.30V599.21H920.35V684.30ZM920.35,684.30V570.84H930.30V684.30ZM930.30,684.30V556.66H940.25V684.30ZM940.25,684.30V414.84H950.20V684.30ZM950.20,684.30V443.21H960.15V684.30ZM960.15,684.30V386.48H970.10V684.30ZM970.10,684.30V528.30H980.05V684.30ZM980.05,684.30V414.84H990.00V684.30ZM990.00,684.30V471.57H999.95V684.30ZM999.95,684.30V556.66H1009.90V684.30ZM1009.90,684.30V485.75H1019.85V684.30ZM1019.85,684.30V613.39H1029.80V684.30ZM1029.80,684.30V528.30H1039.75V684.30ZM1039.75,684.30V528.30H1049.70V684.30ZM1049.70,684.30V585.03H1059.65V684.30ZM1059.65,684.30H1069.60M1069.60,684.30V641.75H1079.55V684.30ZM1079.55,684.30V599.21H1089.50V684.30ZM1089.50,684.30V670.12H1099.45V684.30ZM1099.45,684.30H1109.40M1109.40,684.30V670.12H1119.35V684.30ZM1119.35,684.30V670.12H1129.30V684.30ZM1129.30,684.30V670.12H1139.25V684.30ZM1139.25,684.30H1149.20M1149.20,684.30H1159.15M1159.15,684.30H1169.10M1169.10,684.30H1179.05M1179.05,684.30V670.12H1189.00V684.30Z"/>
<path class="den" d="M891.4,647.3L894.0,641.5L896.7,635.5L899.3,629.3L901.9,622.9L904.6,616.5L907.2,609.8L909.9,603.0L912.5,596.0L915.1,588.5L917.8,580.6L920.4,572.1L923.0,562.8L925.7,552.8L928.3,542.1L931.0,530.8L933.6,519.1L936.2,507.3L938.9,495.7L941.5,484.7L944.1,474.6L946.8,465.7L949.4,458.5L952.1,452.8L954.7,448.9L957.3,446.4L960.0,445.2L962.6,445.1L965.2,445.7L967.9,447.2L970.5,449.4L973.2,452.3L975.8,455.9L978.4,460.1L981.1,464.7L983.7,469.7L986.4,474.9L989.0,480.2L991.6,485.7L994.3,491.5L996.9,497.5L999.5,503.6L1002.2,509.9L1004.8,516.0L1007.5,521.9L1010.1,527.4L1012.7,532.4L1015.4,536.8L1018.0,540.5L1020.6,543.6L1023.3,546.1L1025.9,548.2L1028.6,550.1L1031.2,551.9L1033.8,554.0L1036.5,556.7L1039.1,560.2L1041.7,564.7L1044.4,570.0L1047.0,576.1L1049.7,582.7L1052.3,589.6L1054.9,596.5L1057.6,603.2L1060.2,609.4L1062.9,615.0L1065.5,620.1L1068.1,624.7L1070.8,628.9L1073.4,632.7L1076.0,636.2L1078.7,639.5L1081.3,642.6L1084.0,645.4L1086.6,648.1L1089.2,650.8L1091.9,653.3L1094.5,655.8L1097.1,658.3L1099.8,660.7L1102.4,663.0L1105.1,665.1L1107.7,667.0L1110.3,668.6L1113.0,670.0L1115.6,671.3L1118.2,672.3L1120.9,673.3L1123.5,674.2L1126.2,675.1L1128.8,676.0L1131.4,676.9L1134.1,677.7L1136.7,678.5L1139.3,679.2L1142.0,679.9L1144.6,680.5L1147.3,681.0L1149.9,681.5L1152.5,681.9L1155.2,682.1L1157.8,682.3L1160.5,682.4L1163.1,682.3L1165.7,682.1L1168.4,681.9L1171.0,681.6L1173.6,681.3L1176.3,681.1L1178.9,680.9L1178.9,684.3L891.4,684.3Z"/>
<path class="dl" d="M891.4,647.3L894.0,641.5L896.7,635.5L899.3,629.3L901.9,622.9L904.6,616.5L907.2,609.8L909.9,603.0L912.5,596.0L915.1,588.5L917.8,580.6L920.4,572.1L923.0,562.8L925.7,552.8L928.3,542.1L931.0,530.8L933.6,519.1L936.2,507.3L938.9,495.7L941.5,484.7L944.1,474.6L946.8,465.7L949.4,458.5L952.1,452.8L954.7,448.9L957.3,446.4L960.0,445.2L962.6,445.1L965.2,445.7L967.9,447.2L970.5,449.4L973.2,452.3L975.8,455.9L978.4,460.1L981.1,464.7L983.7,469.7L986.4,474.9L989.0,480.2L991.6,485.7L994.3,491.5L996.9,497.5L999.5,503.6L1002.2,509.9L1004.8,516.0L1007.5,521.9L1010.1,527.4L1012.7,532.4L1015.4,536.8L1018.0,540.5L1020.6,543.6L1023.3,546.1L1025.9,548.2L1028.6,550.1L1031.2,551.9L1033.8,554.0L1036.5,556.7L1039.1,560.2L1041.7,564.7L1044.4,570.0L1047.0,576.1L1049.7,582.7L1052.3,589.6L1054.9,596.5L1057.6,603.2L1060.2,609.4L1062.9,615.0L1065.5,620.1L1068.1,624.7L1070.8,628.9L1073.4,632.7L1076.0,636.2L1078.7,639.5L1081.3,642.6L1084.0,645.4L1086.6,648.1L1089.2,650.8L1091.9,653.3L1094.5,655.8L1097.1,658.3L1099.8,660.7L1102.4,663.0L1105.1,665.1L1107.7,667.0L1110.3,668.6L1113.0,670.0L1115.6,671.3L1118.2,672.3L1120.9,673.3L1123.5,674.2L1126.2,675.1L1128.8,676.0L1131.4,676.9L1134.1,677.7L1136.7,678.5L1139.3,679.2L1142.0,679.9L1144.6,680.5L1147.3,681.0L1149.9,681.5L1152.5,681.9L1155.2,682.1L1157.8,682.3L1160.5,682.4L1163.1,682.3L1165.7,682.1L1168.4,681.9L1171.0,681.6L1173.6,681.3L1176.3,681.1L1178.9,680.9"/>
<rect class="fr" x="875.70" y="371.40" width="327.60" height="327.40"/>
<path class="tm" d="M926.50,699.10V701.60M1001.70,699.10V701.60M1077.00,699.10V701.60M1151.20,699.10V701.60"/>
<path class="ty" d="M873.10,491.40H875.30M873.10,684.25H875.30"/>
<text class="ttl" style="font-size:30.50px" transform="translate(888.37 407.20) rotate(0.03) scale(1.0934 1)">LL</text>
</g>
<g id="panel-LW">
<g class="x-axis">
<g transform="translate(1316.64 723.12) rotate(0.03) scale(1.000 1.027)"><text class="tk">10</text><path class="wf" d="M0.87,-3.73H6.93V0.80H0.87ZM11.01,-3.73H16.69V0.80H11.01Z"/></g>
<g transform="translate(1378.58 723.26) rotate(0.03) scale(1.000 1.027)"><text class="tk">12</text><path class="wf" d="M0.87,-3.73H6.93V0.80H0.87ZM11.01,-3.73H16.69V0.80H11.01Z"/></g>
<g transform="translate(1439.97 723.26) rotate(0.03) scale(1.000 1.027)"><text class="tk">14</text><path class="wf" d="M0.87,-3.73H6.93V0.80H0.87ZM11.01,-3.73H16.69V0.80H11.01Z"/></g>
<g transform="translate(1502.25 723.13) rotate(0.03) scale(1.000 1.027)"><text class="tk">16</text><path class="wf" d="M0.87,-3.73H6.93V0.80H0.87ZM11.01,-3.73H16.69V0.80H11.01Z"/></g>
<g transform="translate(1563.37 723.09) rotate(0.03) scale(1.000 1.027)"><text class="tk">18</text><path class="wf" d="M0.87,-3.73H6.93V0.80H0.87ZM11.01,-3.73H16.69V0.80H11.01Z"/></g>
</g>
<g class="y-axis">
<text class="tk" transform="translate(1211.67 497.23) rotate(0.03) scale(1.000 1.027)">0.20</text>
<text class="tk" transform="translate(1211.66 693.98) rotate(0.03) scale(1.000 1.027)">0.00</text>
</g>
<path class="bar" d="M1286.00,684.30V639.62H1295.95V684.30ZM1295.95,684.30V624.73H1305.90V684.30ZM1305.90,684.30V639.62H1315.85V684.30ZM1315.85,684.30V609.84H1325.80V684.30ZM1325.80,684.30V565.16H1335.75V684.30ZM1335.75,684.30V580.06H1345.70V684.30ZM1345.70,684.30V550.27H1355.65V684.30ZM1355.65,684.30V401.35H1365.60V684.30ZM1365.60,684.30V386.46H1375.55V684.30ZM1375.55,684.30V475.81H1385.50V684.30ZM1385.50,684.30V550.27H1395.45V684.30ZM1395.45,684.30V446.03H1405.40V684.30ZM1405.40,684.30V416.24H1415.35V684.30ZM1415.35,684.30V580.06H1425.30V684.30ZM1425.30,684.30V565.16H1435.25V684.30ZM1435.25,684.30V565.16H1445.20V684.30ZM1445.20,684.30V535.38H1455.15V684.30ZM1455.15,684.30V580.06H1465.10V684.30ZM1465.10,684.30V594.95H1475.05V684.30ZM1475.05,684.30V580.06H1485.00V684.30ZM1485.00,684.30V639.62H1494.95V684.30ZM1494.95,684.30V669.41H1504.90V684.30ZM1504.90,684.30V639.62H1514.85V684.30ZM1514.85,684.30V669.41H1524.80V684.30ZM1524.80,684.30V669.41H1534.75V684.30ZM1534.75,684.30V639.62H1544.70V684.30ZM1544.70,684.30V654.52H1554.65V684.30ZM1554.65,684.30V669.41H1564.60V684.30ZM1564.60,684.30H1574.55M1574.55,684.30V654.52H1584.50V684.30Z"/>
<path class="den" d="M1291.4,648.5L1294.0,644.6L1296.7,640.5L1299.3,636.3L1302.0,632.1L1304.6,628.0L1307.3,623.9L1309.9,619.8L1312.6,615.5L1315.2,611.0L1317.8,606.1L1320.5,600.9L1323.1,595.2L1325.8,589.0L1328.4,582.5L1331.1,575.4L1333.7,567.8L1336.4,559.6L1339.0,550.9L1341.6,541.7L1344.3,532.1L1346.9,522.3L1349.6,512.6L1352.2,503.3L1354.9,494.8L1357.5,487.2L1360.1,480.8L1362.8,475.6L1365.4,471.7L1368.1,468.8L1370.7,467.0L1373.4,466.0L1376.0,465.8L1378.7,466.2L1381.3,467.0L1383.9,468.3L1386.6,469.9L1389.2,471.7L1391.9,473.7L1394.5,476.0L1397.2,478.5L1399.8,481.4L1402.5,484.7L1405.1,488.5L1407.7,492.9L1410.4,497.7L1413.0,502.9L1415.7,508.5L1418.3,514.2L1421.0,519.9L1423.6,525.6L1426.2,531.1L1428.9,536.3L1431.5,541.2L1434.2,545.8L1436.8,550.0L1439.5,553.9L1442.1,557.5L1444.8,560.9L1447.4,564.1L1450.0,567.1L1452.7,570.1L1455.3,573.1L1458.0,576.2L1460.6,579.4L1463.3,582.8L1465.9,586.5L1468.6,590.4L1471.2,594.6L1473.8,599.1L1476.5,603.8L1479.1,608.6L1481.8,613.4L1484.4,618.2L1487.1,622.8L1489.7,627.3L1492.3,631.5L1495.0,635.4L1497.6,639.0L1500.3,642.4L1502.9,645.4L1505.6,648.0L1508.2,650.3L1510.9,652.1L1513.5,653.6L1516.1,654.8L1518.8,655.7L1521.4,656.4L1524.1,656.9L1526.7,657.3L1529.4,657.6L1532.0,658.0L1534.7,658.4L1537.3,658.8L1539.9,659.3L1542.6,660.0L1545.2,660.7L1547.9,661.5L1550.5,662.5L1553.2,663.6L1555.8,664.7L1558.4,665.9L1561.1,667.0L1563.7,668.1L1566.4,669.1L1569.0,670.0L1571.7,670.9L1574.3,671.8L1577.0,672.7L1579.6,673.6L1579.6,684.3L1291.4,684.3Z"/>
<path class="dl" d="M1291.4,648.5L1294.0,644.6L1296.7,640.5L1299.3,636.3L1302.0,632.1L1304.6,628.0L1307.3,623.9L1309.9,619.8L1312.6,615.5L1315.2,611.0L1317.8,606.1L1320.5,600.9L1323.1,595.2L1325.8,589.0L1328.4,582.5L1331.1,575.4L1333.7,567.8L1336.4,559.6L1339.0,550.9L1341.6,541.7L1344.3,532.1L1346.9,522.3L1349.6,512.6L1352.2,503.3L1354.9,494.8L1357.5,487.2L1360.1,480.8L1362.8,475.6L1365.4,471.7L1368.1,468.8L1370.7,467.0L1373.4,466.0L1376.0,465.8L1378.7,466.2L1381.3,467.0L1383.9,468.3L1386.6,469.9L1389.2,471.7L1391.9,473.7L1394.5,476.0L1397.2,478.5L1399.8,481.4L1402.5,484.7L1405.1,488.5L1407.7,492.9L1410.4,497.7L1413.0,502.9L1415.7,508.5L1418.3,514.2L1421.0,519.9L1423.6,525.6L1426.2,531.1L1428.9,536.3L1431.5,541.2L1434.2,545.8L1436.8,550.0L1439.5,553.9L1442.1,557.5L1444.8,560.9L1447.4,564.1L1450.0,567.1L1452.7,570.1L1455.3,573.1L1458.0,576.2L1460.6,579.4L1463.3,582.8L1465.9,586.5L1468.6,590.4L1471.2,594.6L1473.8,599.1L1476.5,603.8L1479.1,608.6L1481.8,613.4L1484.4,618.2L1487.1,622.8L1489.7,627.3L1492.3,631.5L1495.0,635.4L1497.6,639.0L1500.3,642.4L1502.9,645.4L1505.6,648.0L1508.2,650.3L1510.9,652.1L1513.5,653.6L1516.1,654.8L1518.8,655.7L1521.4,656.4L1524.1,656.9L1526.7,657.3L1529.4,657.6L1532.0,658.0L1534.7,658.4L1537.3,658.8L1539.9,659.3L1542.6,660.0L1545.2,660.7L1547.9,661.5L1550.5,662.5L1553.2,663.6L1555.8,664.7L1558.4,665.9L1561.1,667.0L1563.7,668.1L1566.4,669.1L1569.0,670.0L1571.7,670.9L1574.3,671.8L1577.0,672.7L1579.6,673.6"/>
<rect class="fr" x="1271.60" y="371.40" width="327.40" height="327.40"/>
<path class="tm" d="M1331.50,699.10V701.60M1393.40,699.10V701.60M1454.60,699.10V701.60M1516.40,699.10V701.60M1578.30,699.10V701.60"/>
<path class="ty" d="M1269.00,487.40H1271.20M1269.00,684.25H1271.20"/>
<text class="ttl" style="font-size:30.50px" transform="translate(1285.01 407.20) rotate(0.03) scale(1.0485 1)">LW</text>
</g>
<g id="panel-LVA">
<g class="x-axis">
<text class="tk" transform="translate(1692.66 723.12) rotate(0.03) scale(0.983 1.027)">50</text>
<text class="tk" transform="translate(1761.04 723.11) rotate(0.03) scale(0.983 1.027)">60</text>
<text class="tk" transform="translate(1828.18 723.16) rotate(0.03) scale(0.983 1.027)">70</text>
<text class="tk" transform="translate(1896.25 723.10) rotate(0.03) scale(0.983 1.027)">80</text>
<text class="tk" transform="translate(1962.94 723.02) rotate(0.03) scale(0.983 1.027)">90</text>
</g>
<g class="y-axis">
<text class="tk" transform="translate(1608.21 513.78) rotate(0.03) scale(0.983 1.027)">0.04</text>
<text class="tk" transform="translate(1608.70 693.98) rotate(0.03) scale(0.983 1.027)">0.00</text>
</g>
<path class="bar" d="M1683.10,684.30V669.41H1693.04V684.30ZM1693.04,684.30V669.41H1702.98V684.30ZM1702.98,684.30V669.41H1712.92V684.30ZM1712.92,684.30V624.73H1722.86V684.30ZM1722.86,684.30V490.70H1732.80V684.30ZM1732.80,684.30V594.95H1742.74V684.30ZM1742.74,684.30V490.70H1752.68V684.30ZM1752.68,684.30V535.38H1762.62V684.30ZM1762.62,684.30V535.38H1772.56V684.30ZM1772.56,684.30V446.03H1782.50V684.30ZM1782.50,684.30V505.60H1792.44V684.30ZM1792.44,684.30V490.70H1802.38V684.30ZM1802.38,684.30V386.46H1812.32V684.30ZM1812.32,684.30V550.27H1822.26V684.30ZM1822.26,684.30V490.70H1832.20V684.30ZM1832.20,684.30V475.81H1842.14V684.30ZM1842.14,684.30V446.03H1852.08V684.30ZM1852.08,684.30V609.84H1862.02V684.30ZM1862.02,684.30V550.27H1871.96V684.30ZM1871.96,684.30V624.73H1881.90V684.30ZM1881.90,684.30V565.16H1891.84V684.30ZM1891.84,684.30V639.62H1901.78V684.30ZM1901.78,684.30H1911.72M1911.72,684.30V654.52H1921.66V684.30ZM1921.66,684.30V669.41H1931.60V684.30ZM1931.60,684.30H1941.54M1941.54,684.30H1951.48M1951.48,684.30H1961.42M1961.42,684.30H1971.36M1971.36,684.30V669.41H1981.30V684.30Z"/>
<path class="den" d="M1692.1,665.9L1694.7,661.8L1697.4,657.2L1700.0,651.9L1702.6,646.0L1705.3,639.4L1707.9,632.1L1710.6,624.1L1713.2,615.6L1715.8,606.8L1718.5,597.9L1721.1,589.1L1723.7,580.8L1726.4,573.0L1729.0,565.8L1731.7,559.3L1734.3,553.3L1736.9,547.8L1739.6,542.9L1742.2,538.4L1744.8,534.4L1747.5,530.9L1750.1,527.9L1752.8,525.1L1755.4,522.4L1758.0,519.7L1760.7,516.7L1763.3,513.5L1766.0,509.9L1768.6,506.1L1771.2,502.1L1773.9,498.1L1776.5,494.1L1779.1,490.2L1781.8,486.4L1784.4,482.8L1787.1,479.4L1789.7,476.5L1792.3,474.1L1795.0,472.3L1797.6,471.2L1800.2,470.7L1802.9,471.1L1805.5,472.2L1808.2,474.1L1810.8,476.6L1813.4,479.5L1816.1,482.7L1818.7,485.6L1821.3,488.1L1824.0,489.9L1826.6,491.1L1829.3,491.8L1831.9,492.6L1834.5,493.8L1837.2,496.0L1839.8,499.3L1842.4,504.0L1845.1,509.8L1847.7,516.6L1850.4,524.1L1853.0,531.9L1855.6,539.8L1858.3,547.7L1860.9,555.5L1863.6,562.9L1866.2,570.1L1868.8,576.9L1871.5,583.4L1874.1,589.5L1876.7,595.3L1879.4,600.8L1882.0,606.0L1884.7,611.1L1887.3,616.0L1889.9,620.8L1892.6,625.6L1895.2,630.3L1897.8,635.1L1900.5,639.7L1903.1,644.3L1905.8,648.6L1908.4,652.7L1911.0,656.6L1913.7,660.1L1916.3,663.4L1918.9,666.4L1921.6,669.1L1924.2,671.6L1926.9,673.8L1929.5,675.8L1932.1,677.5L1934.8,678.9L1937.4,680.1L1940.1,681.0L1942.7,681.6L1945.3,682.1L1948.0,682.5L1950.6,682.7L1953.2,682.8L1955.9,682.9L1958.5,682.8L1961.2,682.7L1963.8,682.5L1966.4,682.3L1969.1,682.0L1971.7,681.8L1974.3,681.5L1977.0,681.3L1979.6,681.3L1979.6,684.3L1692.1,684.3Z"/>
<path class="dl" d="M1692.1,665.9L1694.7,661.8L1697.4,657.2L1700.0,651.9L1702.6,646.0L1705.3,639.4L1707.9,632.1L1710.6,624.1L1713.2,615.6L1715.8,606.8L1718.5,597.9L1721.1,589.1L1723.7,580.8L1726.4,573.0L1729.0,565.8L1731.7,559.3L1734.3,553.3L1736.9,547.8L1739.6,542.9L1742.2,538.4L1744.8,534.4L1747.5,530.9L1750.1,527.9L1752.8,525.1L1755.4,522.4L1758.0,519.7L1760.7,516.7L1763.3,513.5L1766.0,509.9L1768.6,506.1L1771.2,502.1L1773.9,498.1L1776.5,494.1L1779.1,490.2L1781.8,486.4L1784.4,482.8L1787.1,479.4L1789.7,476.5L1792.3,474.1L1795.0,472.3L1797.6,471.2L1800.2,470.7L1802.9,471.1L1805.5,472.2L1808.2,474.1L1810.8,476.6L1813.4,479.5L1816.1,482.7L1818.7,485.6L1821.3,488.1L1824.0,489.9L1826.6,491.1L1829.3,491.8L1831.9,492.6L1834.5,493.8L1837.2,496.0L1839.8,499.3L1842.4,504.0L1845.1,509.8L1847.7,516.6L1850.4,524.1L1853.0,531.9L1855.6,539.8L1858.3,547.7L1860.9,555.5L1863.6,562.9L1866.2,570.1L1868.8,576.9L1871.5,583.4L1874.1,589.5L1876.7,595.3L1879.4,600.8L1882.0,606.0L1884.7,611.1L1887.3,616.0L1889.9,620.8L1892.6,625.6L1895.2,630.3L1897.8,635.1L1900.5,639.7L1903.1,644.3L1905.8,648.6L1908.4,652.7L1911.0,656.6L1913.7,660.1L1916.3,663.4L1918.9,666.4L1921.6,669.1L1924.2,671.6L1926.9,673.8L1929.5,675.8L1932.1,677.5L1934.8,678.9L1937.4,680.1L1940.1,681.0L1942.7,681.6L1945.3,682.1L1948.0,682.5L1950.6,682.7L1953.2,682.8L1955.9,682.9L1958.5,682.8L1961.2,682.7L1963.8,682.5L1966.4,682.3L1969.1,682.0L1971.7,681.8L1974.3,681.5L1977.0,681.3L1979.6,681.3"/>
<rect class="fr" x="1668.75" y="371.40" width="326.55" height="327.40"/>
<path class="tm" d="M1707.80,699.10V701.60M1775.00,699.10V701.60M1842.50,699.10V701.60M1910.10,699.10V701.60M1978.00,699.10V701.60"/>
<path class="ty" d="M1666.15,504.40H1668.35M1666.15,684.25H1668.35"/>
<text class="ttl" style="font-size:30.56px" transform="translate(1680.10 407.20) rotate(0.03) scale(1.0655 1)">LVA</text>
</g>
<text text-anchor="middle" transform="translate(23.26 157.76) rotate(-90.03)" style="font-size:31.31px">Density</text>
<text text-anchor="middle" transform="translate(23.35 511.78) rotate(-90.03)" style="font-size:31.15px">Density</text>
</svg>
</body></html>
